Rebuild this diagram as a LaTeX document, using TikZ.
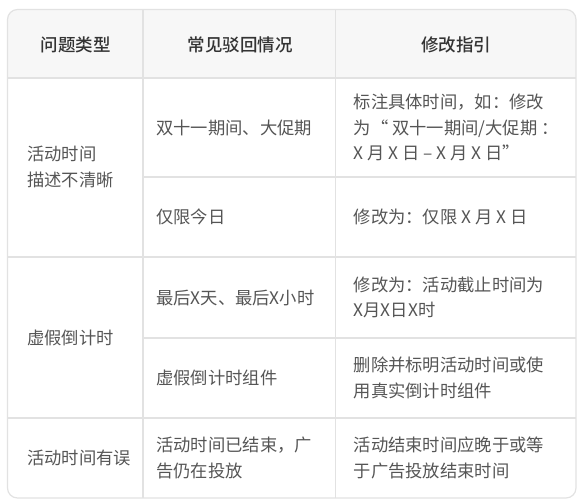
\documentclass[tikz,border=0pt]{standalone}
\usepackage{fontspec}
\setmainfont{Noto Sans CJK SC}
\newfontfamily\headfont{Noto Sans CJK SC Medium}
\usetikzlibrary{calc}
\definecolor{gridline}{HTML}{E2E2E2}
\definecolor{headfill}{HTML}{F7F7F7}
\definecolor{headtext}{HTML}{333333}
\definecolor{bodytext}{HTML}{555555}
\tikzset{
   head/.style={text=headtext, font=\headfont\fontsize{17.5}{20}\selectfont, anchor=center, inner sep=0pt},
   cell/.style={text=bodytext, font=\fontsize{17.3}{25.5}\selectfont, anchor=west, align=left, inner sep=0pt},
   grid/.style={draw=gridline, line width=1.2pt},
   }

\begin{document}
\begin{tikzpicture}[x=1pt,y=-1pt]
   \useasboundingbox (0,0) rectangle (587,503);
   % header background
   \begin{scope}
      \clip[rounded corners=10pt] (7.5,9.5) rectangle (576,498);
      \fill[headfill] (7.5,9.5) rectangle (576,78);
   \end{scope}
   % grid
   \draw[grid](7.5,78)to(576,78);
   \draw[grid](143,177)to(576,177);
   \draw[grid](7.5,257)to(576,257);
   \draw[grid](143,338)to(576,338);
   \draw[grid](7.5,418)to(576,418);
   \draw[grid](143,9.5)to(143,498);
   \draw[grid](335.5,9.5)to(335.5,498);
   \draw[grid, rounded corners=10pt](7.5,9.5) rectangle (576,498);
   % header
   \node[head] (hType) at(76,45) {问题类型};
   \node[head] (hCase) at(240,45) {常见驳回情况};
   \node[head] (hFix) at(456,45) {修改指引};
   % group 1
   \node[cell] (type1) at(27,167) {活动时间\\描述不清晰};
   \node[cell] (case1a) at(156,127.5) {双十一期间、大促期};
   \node[cell] (fix1a) at(353.5,127.5) {标注具体时间，如：修改\\为“ 双十一期间/大促期 ：\\X 月 X 日 – X 月 X 日”};
   \node[cell] (case1b) at(156,217) {仅限今日};
   \node[cell] (fix1b) at(353.5,217) {修改为：仅限 X 月 X 日};
   % group 2
   \node[cell] (type2) at(27,337.5) {虚假倒计时};
   \node[cell] (case2a) at(156,297.5) {最后X天、最后X小时};
   \node[cell] (fix2a) at(353.5,297.5) {修改为：活动截止时间为\\X月X日X时};
   \node[cell] (case2b) at(156,378) {虚假倒计时组件};
   \node[cell] (fix2b) at(353.5,378) {删除并标明活动时间或使\\用真实倒计时组件};
   % group 3
   \node[cell] (type3) at(27,458) {活动时间有误};
   \node[cell] (case3) at(156,458) {活动时间已结束，广\\告仍在投放};
   \node[cell] (fix3) at(353.5,458) {活动结束时间应晚于或等\\于广告投放结束时间};
\end{tikzpicture}
\end{document}
